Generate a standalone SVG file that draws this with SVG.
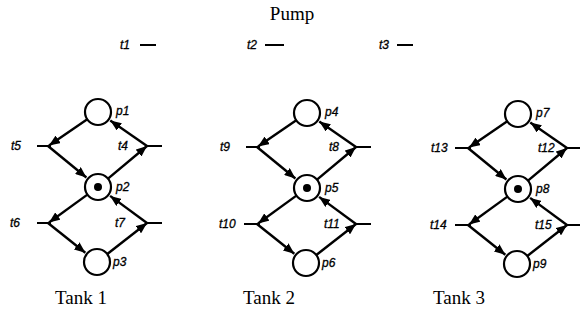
<svg xmlns="http://www.w3.org/2000/svg" width="580" height="323" viewBox="0 0 580 323">
<style>
.pl{fill:#fff;stroke:#000;stroke-width:2.2}
.tk{fill:#000}
.bar{stroke:#000;stroke-width:2}
.arc{stroke:#000;stroke-width:2.4;fill:none;marker-end:url(#ah)}
.lb{font-family:"Liberation Sans",Arial,sans-serif;font-style:italic;font-size:12px;fill:#000;stroke:#000;stroke-width:0.3}
.tt{font-family:"Liberation Serif","Times New Roman",serif;font-size:19px;fill:#000}
</style>
<defs>
<marker id="ah" markerUnits="userSpaceOnUse" markerWidth="12" markerHeight="9" refX="11" refY="4.5" orient="auto">
<path d="M0,0 L11,4.5 L0,9 z" fill="#000"/>
</marker>
</defs>
<rect width="580" height="323" fill="#fff"/>
<text class="tt" x="292" y="20" text-anchor="middle">Pump</text>
<g id="t1"><text class="lb" x="120" y="49">t1</text><line class="bar" x1="140" y1="45" x2="156" y2="45"/></g>
<g id="t2"><text class="lb" x="247" y="49">t2</text><line class="bar" x1="265" y1="45" x2="284" y2="45"/></g>
<g id="t3"><text class="lb" x="379" y="49">t3</text><line class="bar" x1="397" y1="45" x2="413" y2="45"/></g>

<!-- Tank 1 -->
<g id="p1"><circle class="pl" cx="98" cy="112" r="13"/><text class="lb" x="116" y="115">p1</text></g>
<g id="p2"><circle class="pl" cx="98" cy="187" r="13"/><circle class="tk" cx="98" cy="187" r="4"/><text class="lb" x="116" y="191">p2</text></g>
<g id="p3"><circle class="pl" cx="97" cy="262" r="13"/><text class="lb" x="113" y="266">p3</text></g>
<g id="t5"><line class="bar" x1="37" y1="146" x2="51" y2="146"/><text class="lb" x="11" y="150">t5</text></g>
<g id="t4"><line class="bar" x1="145" y1="146" x2="162" y2="146"/><text class="lb" x="118" y="150">t4</text></g>
<g id="t6"><line class="bar" x1="37" y1="223" x2="51" y2="223"/><text class="lb" x="10" y="227">t6</text></g>
<g id="t7"><line class="bar" x1="145" y1="223" x2="162" y2="223"/><text class="lb" x="115" y="227">t7</text></g>
<text class="tt" x="55" y="304">Tank 1</text>

<!-- Tank 2 -->
<g id="p4"><circle class="pl" cx="307" cy="113" r="13"/><text class="lb" x="325" y="116">p4</text></g>
<g id="p5"><circle class="pl" cx="307" cy="188" r="13"/><circle class="tk" cx="307" cy="188" r="4"/><text class="lb" x="325" y="192">p5</text></g>
<g id="p6"><circle class="pl" cx="306" cy="263" r="13"/><text class="lb" x="322" y="267">p6</text></g>
<g id="t9"><line class="bar" x1="246" y1="147" x2="260" y2="147"/><text class="lb" x="220" y="151">t9</text></g>
<g id="t8"><line class="bar" x1="354" y1="147" x2="371" y2="147"/><text class="lb" x="329" y="151">t8</text></g>
<g id="t10"><line class="bar" x1="244" y1="224" x2="260" y2="224"/><text class="lb" x="219" y="228">t10</text></g>
<g id="t11"><line class="bar" x1="354" y1="224" x2="371" y2="224"/><text class="lb" x="324" y="228">t11</text></g>
<text class="tt" x="243" y="304">Tank 2</text>

<!-- Tank 3 -->
<g id="p7"><circle class="pl" cx="518" cy="114" r="13"/><text class="lb" x="536" y="117">p7</text></g>
<g id="p8"><circle class="pl" cx="518" cy="189" r="13"/><circle class="tk" cx="518" cy="189" r="4"/><text class="lb" x="536" y="193">p8</text></g>
<g id="p9"><circle class="pl" cx="517" cy="264" r="13"/><text class="lb" x="533" y="268">p9</text></g>
<g id="t13"><line class="bar" x1="455" y1="148" x2="471" y2="148"/><text class="lb" x="431" y="152">t13</text></g>
<g id="t12"><line class="bar" x1="565" y1="148" x2="582" y2="148"/><text class="lb" x="538" y="152">t12</text></g>
<g id="t14"><line class="bar" x1="455" y1="225" x2="471" y2="225"/><text class="lb" x="430" y="229">t14</text></g>
<g id="t15"><line class="bar" x1="565" y1="225" x2="582" y2="225"/><text class="lb" x="535" y="229">t15</text></g>
<text class="tt" x="433" y="304">Tank 3</text>

<g id="connectors">
<line class="arc" x1="87.3" y1="119.3" x2="49" y2="145.5"/>
<line class="arc" x1="48" y1="146" x2="86.4" y2="177.5"/>
<line class="arc" x1="108" y1="178.7" x2="147" y2="146"/>
<line class="arc" x1="147" y1="146" x2="110.3" y2="120.6"/>
<line class="arc" x1="87.4" y1="194.6" x2="49" y2="222.5"/>
<line class="arc" x1="48" y1="223" x2="85.3" y2="252.7"/>
<line class="arc" x1="107.3" y1="254" x2="147" y2="223"/>
<line class="arc" x1="147" y1="223" x2="110.1" y2="195.9"/>

<line class="arc" x1="296.3" y1="120.3" x2="258" y2="146.5"/>
<line class="arc" x1="257" y1="147" x2="295.4" y2="178.5"/>
<line class="arc" x1="317" y1="179.7" x2="356" y2="147"/>
<line class="arc" x1="356" y1="147" x2="319.3" y2="121.6"/>
<line class="arc" x1="296.4" y1="195.6" x2="258" y2="223.5"/>
<line class="arc" x1="257" y1="224" x2="294.3" y2="253.7"/>
<line class="arc" x1="316.3" y1="255" x2="356" y2="224"/>
<line class="arc" x1="356" y1="224" x2="319.1" y2="196.9"/>

<line class="arc" x1="507.3" y1="121.3" x2="469" y2="147.5"/>
<line class="arc" x1="468" y1="148" x2="506.4" y2="179.5"/>
<line class="arc" x1="528" y1="180.7" x2="567" y2="148"/>
<line class="arc" x1="567" y1="148" x2="530.3" y2="122.6"/>
<line class="arc" x1="507.4" y1="196.6" x2="469" y2="224.5"/>
<line class="arc" x1="468" y1="225" x2="505.3" y2="254.7"/>
<line class="arc" x1="527.3" y1="256" x2="567" y2="225"/>
<line class="arc" x1="567" y1="225" x2="530.1" y2="197.9"/>
</g>
</svg>
